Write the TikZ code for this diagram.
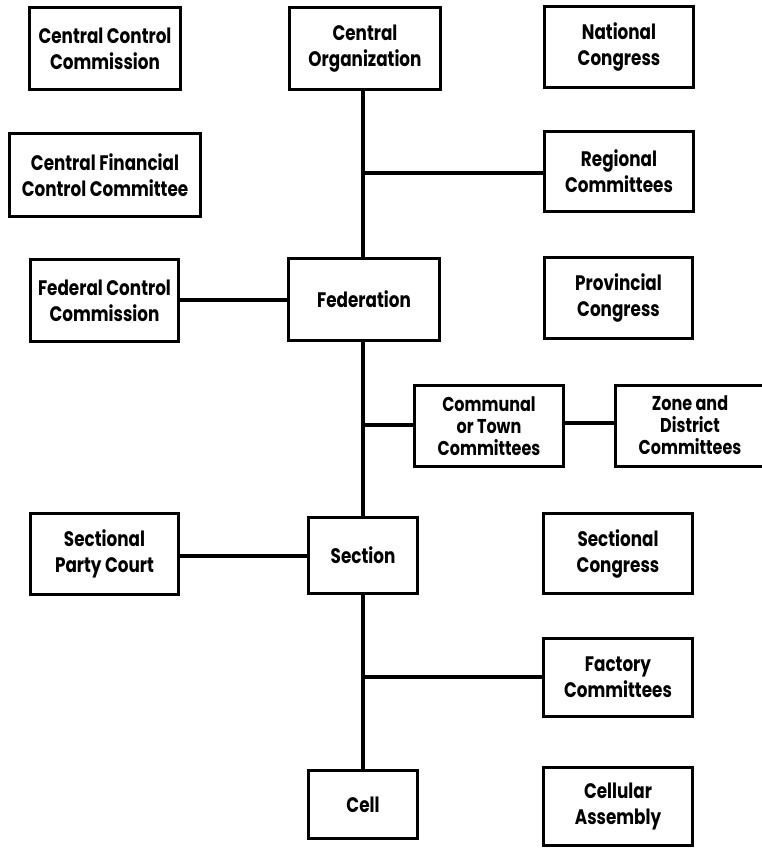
\documentclass[tikz,border=0pt]{standalone}
\usepackage{fontspec}
\setmainfont[FakeStretch=0.8]{Poppins}
\begin{document}
\begin{tikzpicture}[x=1pt,y=-1pt,
  box/.style={draw,line width=3pt,inner sep=0pt,outer sep=0pt,align=center,
    font=\fontsize{21}{26}\selectfont\bfseries},
  tribox/.style={box,font=\fontsize{20}{22}\selectfont\bfseries},
  link/.style={line width=3.8pt}]
\useasboundingbox (0,0) rectangle (762,849);
\clip (0,0) rectangle (762,849);
\node[box,minimum width=151,minimum height=82] (ccc) at (105,48.5) {Central Control\\Commission};
\node[box,minimum width=151,minimum height=82] (corg) at (365,48.5) {Central\\Organization};
\node[box,minimum width=149,minimum height=81] (nat) at (619,47) {National\\Congress};
\node[box,minimum width=191,minimum height=83] (cfcc) at (105,175) {Central Financial\\Control Committee};
\node[box,minimum width=149,minimum height=80] (reg) at (619,171.5) {Regional\\Committees};
\node[box,minimum width=148,minimum height=82] (fcc) at (104.5,300.5) {Federal Control\\Commission};
\node[box,minimum width=151,minimum height=82] (fed) at (364,299.5) {Federation};
\node[box,minimum width=148,minimum height=81] (prov) at (618.5,298) {Provincial\\Congress};
\node[tribox,minimum width=149,minimum height=81] (comm) at (489,426) {Communal\\or Town\\Committees};
\node[tribox,minimum width=149,minimum height=81] (zone) at (690,425.5) {Zone and\\District\\Committees};
\node[box,minimum width=148,minimum height=81] (spc) at (104.5,554) {Sectional\\Party Court};
\node[box,minimum width=109,minimum height=76] (sec) at (363,555.5) {Section};
\node[box,minimum width=149,minimum height=80] (scong) at (618,553.5) {Sectional\\Congress};
\node[box,minimum width=149,minimum height=78] (fact) at (618,677.5) {Factory\\Committees};
\node[box,minimum width=109,minimum height=68] (cell) at (363,804.5) {Cell};
\node[box,minimum width=149,minimum height=78] (cass) at (618,806.5) {Cellular\\Assembly};
\coordinate (t1) at (363,173);
\coordinate (t2) at (363,425);
\coordinate (t3) at (363,677);
\draw[link] (corg.south -| t1) -- (fed.north -| t1);
\draw[link] (fed.south -| t1) -- (sec.north -| t1);
\draw[link] (sec.south -| t1) -- (cell.north -| t1);
\draw[link] (t1) -- (t1 -| reg.west);
\draw[link] (t2) -- (t2 -| comm.west);
\draw[link] (t3) -- (t3 -| fact.west);
\draw[link] (fcc.east |- 0,300) -- (fed.west |- 0,300);
\draw[link] (spc.east |- 0,556) -- (sec.west |- 0,556);
\draw[link] (comm.east |- 0,423) -- (zone.west |- 0,423);
\end{tikzpicture}
\end{document}
